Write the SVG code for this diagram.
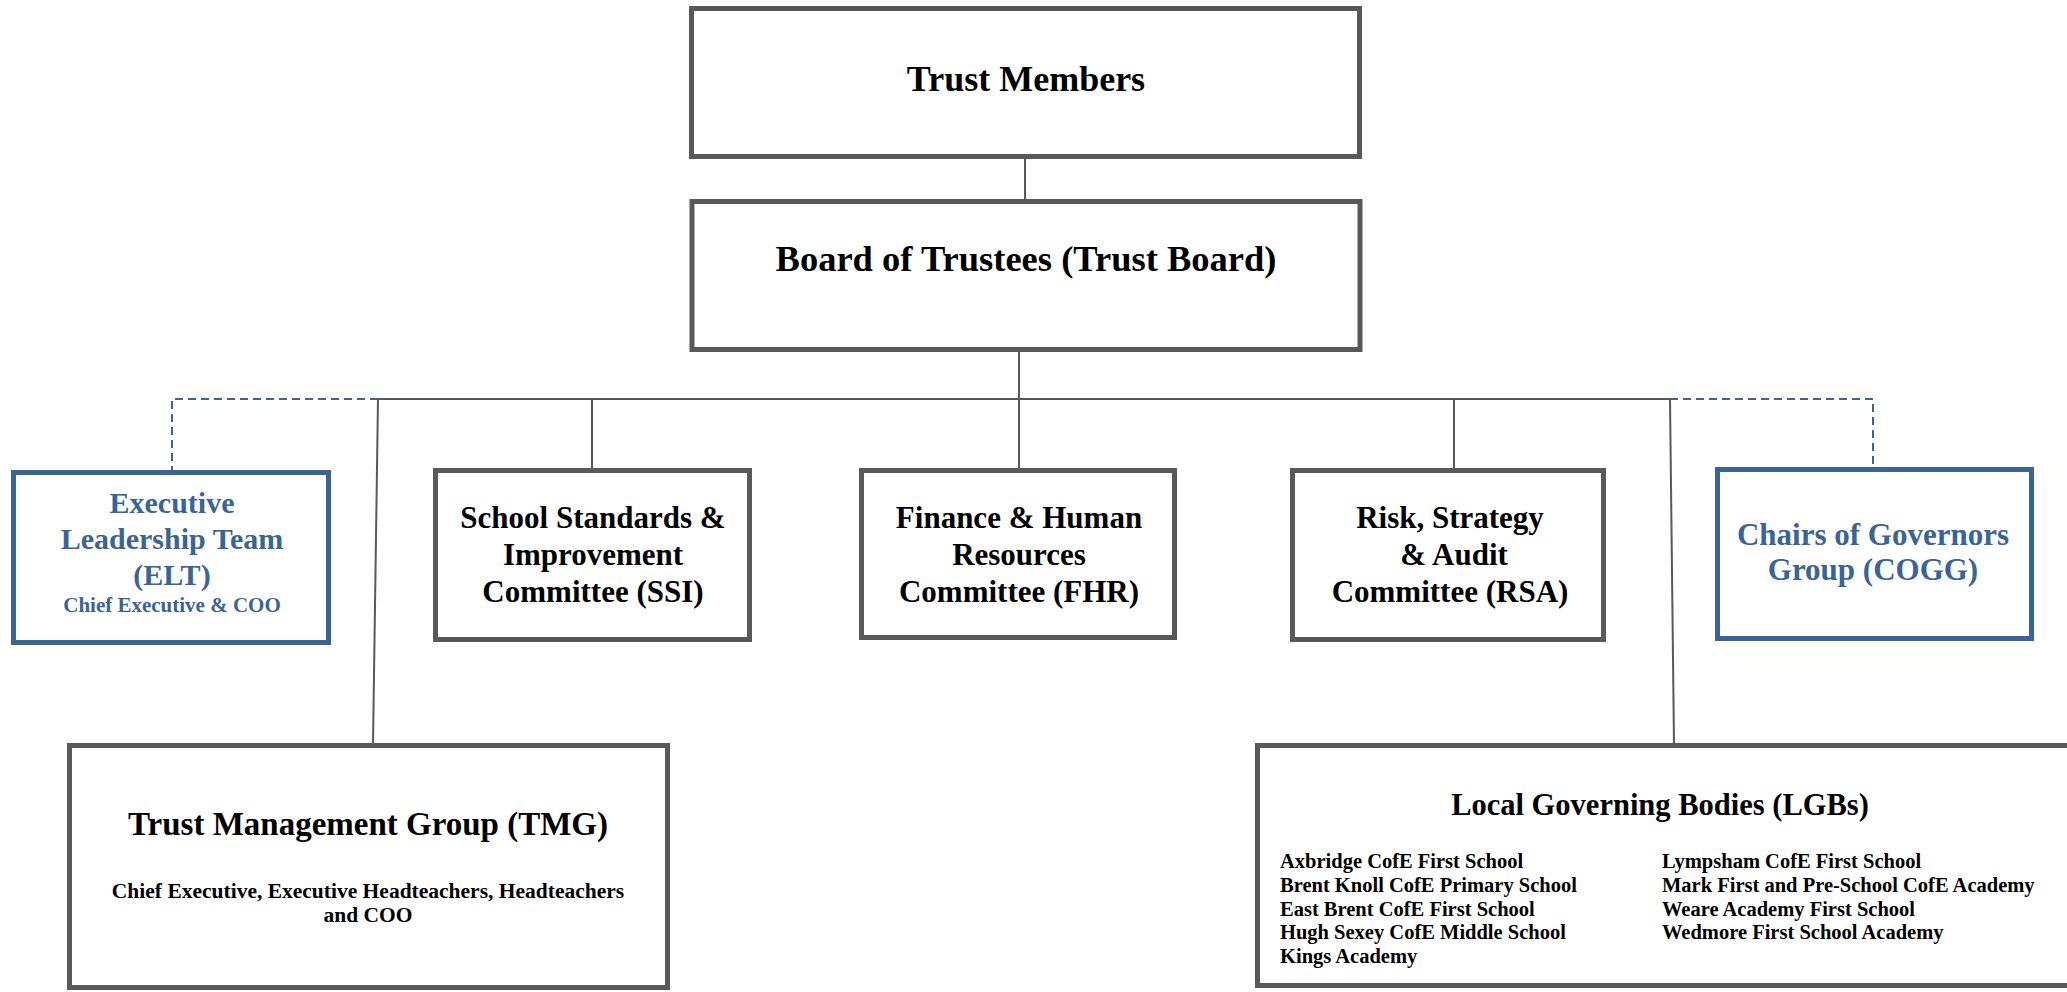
<svg xmlns="http://www.w3.org/2000/svg" width="2067" height="992" viewBox="0 0 2067 992">
<style>
.box{fill:#fff;stroke:#595959;stroke-width:5}
.bbox{fill:#fff;stroke:#3a6496;stroke-width:5}
.t{font-family:"Liberation Serif","Times New Roman",serif;font-weight:bold;fill:#000;text-anchor:middle}
.tb{font-family:"Liberation Serif","Times New Roman",serif;font-weight:bold;fill:#3a6496;text-anchor:middle}
.l{font-family:"Liberation Serif","Times New Roman",serif;font-weight:bold;fill:#000;font-size:20.5px}
.c{fill:none;stroke:#595959;stroke-width:2}
.d{fill:none;stroke:#3a6496;stroke-width:2;stroke-dasharray:8 5}
</style>
<rect width="2067" height="992" fill="#fff"/>
<g id="connectors">
<line class="c" x1="1025" y1="158" x2="1025" y2="200"/>
<line class="c" x1="1019" y1="352" x2="1019" y2="469"/>
<line class="c" x1="378" y1="399" x2="1670" y2="399"/>
<line class="c" x1="592" y1="399" x2="592" y2="469"/>
<line class="c" x1="1454" y1="399" x2="1454" y2="469"/>
<line class="c" x1="378" y1="399" x2="373" y2="744"/>
<line class="c" x1="1670" y1="399" x2="1674" y2="744"/>
<polyline class="d" points="378,399 172,399 172,470"/>
<polyline class="d" points="1670,399 1873,399 1873,467"/>
</g>
<g id="trust-members">
<rect class="box" x="691.5" y="8.5" width="668" height="148"/>
<text class="t" x="1026" y="91" font-size="36">Trust Members</text>
</g>
<g id="board">
<rect class="box" x="692" y="201.5" width="668" height="148"/>
<text class="t" x="1026" y="271" font-size="36.5">Board of Trustees (Trust Board)</text>
</g>
<g id="elt">
<rect class="bbox" x="13.5" y="472.5" width="315" height="170"/>
<text class="tb" x="172" y="513" font-size="30">Executive</text>
<text class="tb" x="172" y="549" font-size="30">Leadership Team</text>
<text class="tb" x="172" y="585" font-size="30">(ELT)</text>
<text class="tb" x="172" y="612" font-size="21">Chief Executive &amp; COO</text>
</g>
<g id="ssi">
<rect class="box" x="435.5" y="470.5" width="314" height="169"/>
<text class="t" x="593" y="528" font-size="31">School Standards &amp;</text>
<text class="t" x="593" y="565" font-size="31">Improvement</text>
<text class="t" x="593" y="602" font-size="31">Committee (SSI)</text>
</g>
<g id="fhr">
<rect class="box" x="861.5" y="470.5" width="313" height="167"/>
<text class="t" x="1019" y="528" font-size="31">Finance &amp; Human</text>
<text class="t" x="1019" y="565" font-size="31">Resources</text>
<text class="t" x="1019" y="602" font-size="31">Committee (FHR)</text>
</g>
<g id="rsa">
<rect class="box" x="1292.5" y="470.5" width="311" height="169"/>
<text class="t" x="1450" y="528" font-size="31">Risk, Strategy</text>
<text class="t" x="1454" y="565" font-size="31">&amp; Audit</text>
<text class="t" x="1450" y="602" font-size="31">Committee (RSA)</text>
</g>
<g id="cogg">
<rect class="bbox" x="1717.5" y="469.5" width="314" height="169"/>
<text class="tb" x="1873" y="545" font-size="31">Chairs of Governors</text>
<text class="tb" x="1873" y="580" font-size="31">Group (COGG)</text>
</g>
<g id="tmg">
<rect class="box" x="69.5" y="745.5" width="598" height="242"/>
<text class="t" x="368" y="835" font-size="33">Trust Management Group (TMG)</text>
<text class="t" x="368" y="898" font-size="21.5">Chief Executive, Executive Headteachers, Headteachers</text>
<text class="t" x="368" y="922" font-size="21.5">and COO</text>
</g>
<g id="lgb">
<rect class="box" x="1257.5" y="745.5" width="820" height="240"/>
<text class="t" x="1660" y="815" font-size="30.5">Local Governing Bodies (LGBs)</text>
<text class="l" x="1280" y="868">Axbridge CofE First School</text>
<text class="l" x="1280" y="892">Brent Knoll CofE Primary School</text>
<text class="l" x="1280" y="916">East Brent CofE First School</text>
<text class="l" x="1280" y="939">Hugh Sexey CofE Middle School</text>
<text class="l" x="1280" y="963">Kings Academy</text>
<text class="l" x="1662" y="868">Lympsham CofE First School</text>
<text class="l" x="1662" y="892">Mark First and Pre-School CofE Academy</text>
<text class="l" x="1662" y="916">Weare Academy First School</text>
<text class="l" x="1662" y="939">Wedmore First School Academy</text>
</g>
</svg>
